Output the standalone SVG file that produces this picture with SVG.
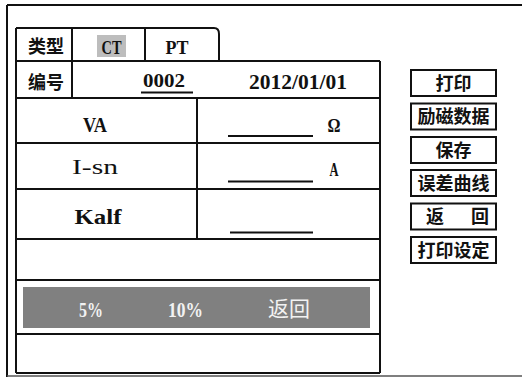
<svg xmlns="http://www.w3.org/2000/svg" width="522" height="378" viewBox="0 0 522 378">
<style>
.ln{stroke:#111;stroke-width:2;fill:none}
.cjk{font-family:"Noto Sans CJK SC","Noto Sans CJK JP",sans-serif;font-weight:bold;fill:#111}
.lat{font-family:"Liberation Serif","Times New Roman",serif;font-weight:bold;fill:#111}
.reg{font-weight:normal}
.btn rect{fill:#fff;stroke:#111;stroke-width:2}
.btn text{font-family:"Noto Sans CJK SC",sans-serif;font-weight:bold;font-size:18px;fill:#111;text-anchor:middle}
.ul{stroke:#111;stroke-width:1.8}
.bar{font-family:"Liberation Serif",serif;font-weight:bold;font-size:22px;fill:#f2f2f2;text-anchor:middle}
</style>
<rect x="0" y="0" width="522" height="378" fill="#fff"/>
<g id="frame">
<path class="ln" d="M7,5 H522 M7,5 V377"/>
<path d="M7,376 H522" stroke="#555" stroke-width="1.5" fill="none"/>
</g>
<g id="table">
<path class="ln" d="M16,28 H214 Q219,28 219,34 V61 M16,28 V373 M16,61 H380 M16,98 H380 M16,143 H380 M16,189 H380 M16,239 H380 M16,280 H380 M16,334 H380 M16,373 H380 M72,28 V98 M145,28 V61 M380,61 V373 M197,98 V239"/>
</g>
<g id="type-row">
<text class="cjk" x="46" y="53" font-size="18" text-anchor="middle">类型</text>
<rect x="97" y="35" width="29" height="22" fill="#bdbdbd"/>
<text class="lat" x="111.5" y="53.5" font-size="18" text-anchor="middle" textLength="20" lengthAdjust="spacingAndGlyphs">CT</text>
<text class="lat" x="177" y="53.5" font-size="18" text-anchor="middle" textLength="23" lengthAdjust="spacingAndGlyphs">PT</text>
</g>
<g id="number-row">
<text class="cjk" x="46" y="89" font-size="18" text-anchor="middle">编号</text>
<text class="lat" x="164" y="87" font-size="19" text-anchor="middle" textLength="42" lengthAdjust="spacingAndGlyphs">0002</text>
<line class="ul" x1="141" y1="92.5" x2="193" y2="92.5"/>
<text class="lat" x="298" y="88.5" font-size="20" text-anchor="middle" textLength="98" lengthAdjust="spacingAndGlyphs">2012/01/01</text>
</g>
<g id="va-row">
<text class="lat" x="95" y="132" font-size="20" text-anchor="middle" textLength="24" lengthAdjust="spacingAndGlyphs">VA</text>
<line class="ul" x1="228" y1="136" x2="313" y2="136"/>
<text class="lat" x="334" y="132" font-size="18" text-anchor="middle" textLength="13" lengthAdjust="spacingAndGlyphs">Ω</text>
</g>
<g id="isn-row">
<text class="lat reg" x="95" y="174" font-size="21" text-anchor="middle" textLength="46" lengthAdjust="spacingAndGlyphs">I-sn</text>
<line class="ul" x1="228" y1="181.5" x2="313" y2="181.5"/>
<text class="lat" x="334" y="175.5" font-size="18" text-anchor="middle" textLength="9" lengthAdjust="spacingAndGlyphs">A</text>
</g>
<g id="kalf-row">
<text class="lat" x="98" y="223.5" font-size="21" text-anchor="middle" textLength="47" lengthAdjust="spacingAndGlyphs">Kalf</text>
<line class="ul" x1="230" y1="232.5" x2="313" y2="232.5"/>
</g>
<g id="menu-bar">
<rect x="23" y="287" width="347" height="41" fill="#808080"/>
<text class="bar" x="91" y="316.5" textLength="24" lengthAdjust="spacingAndGlyphs">5%</text>
<text class="bar" x="185.5" y="316.5" textLength="35" lengthAdjust="spacingAndGlyphs">10%</text>
<text x="289" y="316" font-family="Noto Sans CJK SC,sans-serif" font-size="21" fill="#f2f2f2" text-anchor="middle">返回</text>
</g>
<g id="btn-print" class="btn"><rect x="411" y="70" width="85" height="26"/><text x="453.5" y="89.5">打印</text></g>
<g id="btn-excite" class="btn"><rect x="411" y="103.5" width="85" height="26"/><text x="453.5" y="123">励磁数据</text></g>
<g id="btn-save" class="btn"><rect x="411" y="137" width="85" height="26"/><text x="453.5" y="156.5">保存</text></g>
<g id="btn-curve" class="btn"><rect x="411" y="170" width="85" height="26"/><text x="453.5" y="189.5">误差曲线</text></g>
<g id="btn-back" class="btn"><rect x="411" y="203.5" width="85" height="26"/><text x="435" y="223">返</text><text x="480" y="223">回</text></g>
<g id="btn-printset" class="btn"><rect x="411" y="237" width="85" height="26"/><text x="453.5" y="256.5">打印设定</text></g>
</svg>
